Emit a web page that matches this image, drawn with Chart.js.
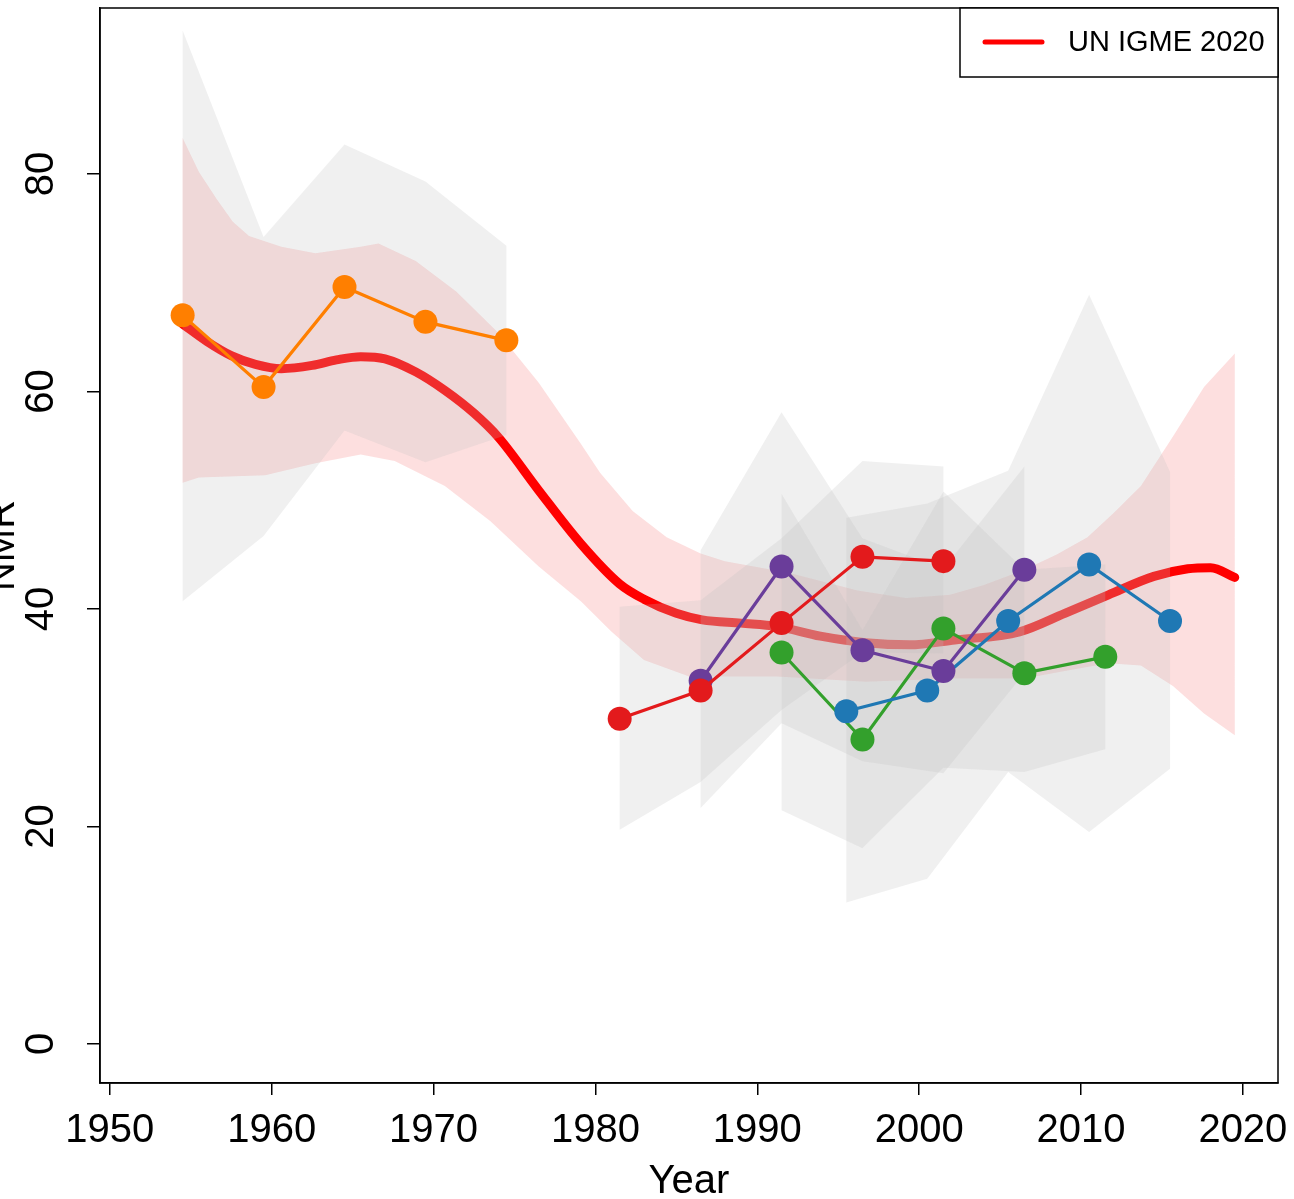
<!DOCTYPE html>
<html>
<head>
<meta charset="utf-8">
<script src="https://cdn.jsdelivr.net/npm/chart.js@4.4.1/dist/chart.umd.min.js"></script>
<style>
html,body{margin:0;padding:0;background:#fff;}
canvas{display:block;}
</style>
</head>
<body>
<canvas id="nmr" width="1294" height="1199" style="width:1294px;height:1199px"></canvas>
<script>
// axis ticks
const xTicks = [1950,1960,1970,1980,1990,2000,2010,2020];
const yTicks = [0,20,40,60,80];
const legendLabels = ['UN IGME 2020'];

// UN IGME 2020 estimate
const igmeYears = [1954.5,1956,1957.5,1959,1960.6,1962.5,1964,1965.5,1967,1968.9,1970.7,1972.5,1974,1976.5,1979.1,1981.5,1983,1985,1986.6,1989,1991.2,1993.9,1996.7,1999.4,2002.2,2006.2,2009,2011.7,2014.5,2016.6,2018,2019.5];
const igmeNmr   = [66.2,64.6,63.3,62.5,62.1,62.4,62.9,63.2,63.0,61.8,60.1,58.0,55.8,50.9,46.0,42.3,40.9,39.6,39.0,38.7,38.4,37.5,36.9,36.7,37.15,37.9,39.6,41.3,43.0,43.7,43.8,42.9];
// its uncertainty band
const igmeUpYears = [1954.5,1955.5,1956.6,1957.6,1958.6,1960.6,1962.7,1965.5,1966.6,1968.9,1971.4,1974,1976.5,1979.1,1980.3,1982.3,1984.4,1986.5,1988,1992,1996.2,1999.2,2001.9,2004,2006.5,2008.5,2010.4,2012,2013.7,2015.7,2017.6,2019.5];
const igmeUp      = [83.3,80.2,77.7,75.6,74.3,73.3,72.7,73.3,73.6,72.0,69.2,65.4,60.8,55.2,52.5,49.0,46.6,45.1,44.4,43.3,41.7,41.0,41.3,42.2,43.6,45.0,46.6,48.8,51.3,55.9,60.4,63.5];
const igmeLoYears = [1954.5,1955.5,1959.6,1962.7,1965.5,1967.6,1970.7,1973.5,1976.5,1979.1,1981,1983,1985.8,1991.2,1996.7,2002.2,2006.5,2009,2011.7,2013.7,2015.7,2017.6,2019.5];
const igmeLo      = [51.6,52.1,52.3,53.4,54.2,53.6,51.3,48.1,43.9,40.7,37.9,35.3,33.8,33.8,33.3,33.6,33.6,34.3,35.0,34.8,32.9,30.4,28.4];

// data sources
const orangeYears = [1954.5,1959.5,1964.5,1969.5,1974.5];
const orangeNmr   = [67.0,60.4,69.6,66.4,64.7];
const orangeHi    = [93.2,74.2,82.7,79.3,73.4];
const orangeLo    = [40.7,46.7,56.4,53.5,56.0];

const redYears = [1981.5,1986.5,1991.5,1996.5,2001.5];
const redNmr   = [29.9,32.5,38.7,44.8,44.4];
const redHi    = [40.2,40.8,46.5,53.6,53.1];
const redLo    = [19.7,24.1,30.7,36.0,35.9];

const purpleYears = [1986.5,1991.5,1996.5,2001.5,2006.5];
const purpleNmr   = [33.4,43.9,36.2,34.3,43.6];
const purpleHi    = [45.4,58.1,46.5,43.7,53.1];
const purpleLo    = [21.7,29.5,26.0,24.9,34.1];

const greenYears = [1991.5,1996.5,2001.5,2006.5,2011.5];
const greenNmr   = [36.0,28.0,38.2,34.1,35.6];
const greenHi    = [50.6,38.1,50.8,43.6,44.1];
const greenLo    = [21.5,18.0,25.4,25.0,27.1];

const blueYears = [1995.5,2000.5,2005.5,2010.5,2015.5];
const blueNmr   = [30.6,32.5,38.9,44.1,38.9];
const blueHi    = [48.4,49.7,52.7,68.9,52.6];
const blueLo    = [13.0,15.2,25.0,19.5,25.3];

function pts(xs, ys){ return xs.map((x, i) => ({ x, y: ys[i] })); }
function shape(xa, hi, xb, lo){ return pts(xa, hi).concat(pts(xb, lo).reverse()); }
function noPad(s){ s.paddingLeft = 0; s.paddingRight = 0; s.paddingTop = 0; s.paddingBottom = 0; }

const GREY = 'rgba(190,190,190,0.23)';
const series = [
  { years: redYears, nmr: redNmr, hi: redHi, lo: redLo, color: '#e31a1c' },
  { years: purpleYears, nmr: purpleNmr, hi: purpleHi, lo: purpleLo, color: '#6a3d9a' },
  { years: blueYears, nmr: blueNmr, hi: blueHi, lo: blueLo, color: '#1f78b4' },
  { years: greenYears, nmr: greenNmr, hi: greenHi, lo: greenLo, color: '#33a02c' },
  { years: orangeYears, nmr: orangeNmr, hi: orangeHi, lo: orangeLo, color: '#ff7f00' }
];

const datasets = [];
series.forEach((s, i) => {
  datasets.push({ data: pts(s.years, s.nmr), borderColor: s.color, backgroundColor: s.color, borderWidth: 3.2, pointRadius: 12, pointBorderWidth: 0, pointHoverRadius: 12, tension: 0, fill: false, order: 1 + i });
  datasets.push({ data: shape(s.years, s.hi, s.years, s.lo), borderWidth: 0, borderColor: 'rgba(0,0,0,0)', backgroundColor: GREY, pointRadius: 0, tension: 0, fill: 'shape', order: 10 + i });
});
datasets.push({ label: legendLabels[0], data: pts(igmeYears, igmeNmr), borderColor: '#ff0000', borderWidth: 9, borderCapStyle: 'round', borderJoinStyle: 'round', pointRadius: 0, cubicInterpolationMode: 'monotone', fill: false, order: 20 });
datasets.push({ data: shape(igmeUpYears, igmeUp, igmeLoYears, igmeLo), borderWidth: 0, borderColor: 'rgba(0,0,0,0)', backgroundColor: 'rgba(240,30,30,0.14)', pointRadius: 0, tension: 0, fill: 'shape', order: 30 });

const FONT = 'Liberation Sans, Arial, Helvetica, sans-serif';

const frame = {
  id: 'frame',
  afterDraw(chart){
    const { ctx, chartArea: a, scales: { y } } = chart;
    ctx.save();
    ctx.strokeStyle = '#000'; ctx.lineWidth = 1.5;
    ctx.strokeRect(a.left, a.top, a.right - a.left, a.bottom - a.top);
    // rotated y tick labels
    ctx.fillStyle = '#000'; ctx.font = '40px ' + FONT;
    ctx.textAlign = 'center'; ctx.textBaseline = 'middle';
    y.ticks.forEach(t => {
      ctx.save();
      ctx.translate(41.5, y.getPixelForValue(t.value));
      ctx.rotate(-Math.PI / 2);
      ctx.fillText(String(t.value), 0, 0);
      ctx.restore();
    });
    // legend
    const lx = 960, ly = a.top, lw = a.right - lx, lh = 69;
    ctx.fillStyle = '#fff'; ctx.fillRect(lx, ly, lw, lh);
    ctx.strokeStyle = '#000'; ctx.lineWidth = 1.5; ctx.strokeRect(lx, ly, lw, lh);
    ctx.strokeStyle = '#ff0000'; ctx.lineWidth = 5; ctx.lineCap = 'round';
    ctx.beginPath(); ctx.moveTo(lx + 25, ly + 34); ctx.lineTo(lx + 82, ly + 34); ctx.stroke();
    ctx.fillStyle = '#000'; ctx.font = '29px ' + FONT; ctx.textAlign = 'left';
    ctx.fillText(legendLabels[0], lx + 108, ly + 35);
    ctx.restore();
  }
};

new Chart(document.getElementById('nmr'), {
  type: 'line',
  data: { datasets },
  options: {
    responsive: false, animation: false, devicePixelRatio: 1,
    layout: { autoPadding: false, padding: { top: 8, right: 16, left: 0, bottom: 0 } },
    plugins: { legend: { display: false }, tooltip: { enabled: false } },
    scales: {
      x: {
        type: 'linear', min: 1949.395, max: 2022.17,
        afterBuildTicks: s => { s.ticks = xTicks.map(v => ({ value: v })); },
        afterFit: s => { s.height = 116; noPad(s); },
        grid: { drawOnChartArea: false, drawTicks: true, tickLength: 12, color: '#000', lineWidth: 1.5 },
        border: { display: true, color: '#000', width: 1.5 },
        ticks: { color: '#000', font: { family: FONT, size: 40 }, padding: 12, maxRotation: 0, autoSkip: false, callback: v => String(v) },
        title: { display: true, text: 'Year', color: '#000', font: { family: FONT, size: 40, lineHeight: 0.85 }, padding: 0 }
      },
      y: {
        type: 'linear', min: -3.586, max: 95.26,
        afterBuildTicks: s => { s.ticks = yTicks.map(v => ({ value: v })); },
        afterFit: s => { s.width = 100; noPad(s); },
        grid: { drawOnChartArea: false, drawTicks: true, tickLength: 13, color: '#000', lineWidth: 1.5 },
        border: { display: true, color: '#000', width: 1.5 },
        ticks: { display: false },
        title: { display: true, text: 'NMR', color: '#000', font: { family: FONT, size: 40, lineHeight: 0.15 }, padding: 0 }
      }
    }
  },
  plugins: [frame]
});
</script>
</body>
</html>
